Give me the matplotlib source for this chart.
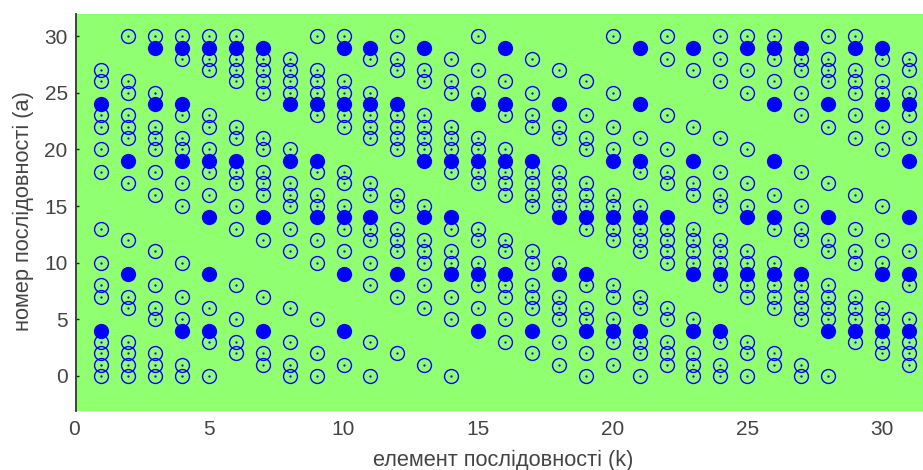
import matplotlib

matplotlib.use("Agg")
import matplotlib.pyplot as plt

# one entry per sequence element k = 1..31
k_values = list(range(1, 32))

open_rows = [
    [27, 26, 23, 22, 20, 18, 13, 10, 8, 7, 3, 2, 1, 0],
    [30, 26, 25, 23, 22, 21, 17, 12, 7, 6, 3, 2, 1, 0],
    [30, 25, 22, 21, 20, 18, 16, 11, 8, 6, 5, 2, 1, 0],
    [30, 28, 23, 21, 20, 17, 15, 10, 7, 5, 1, 0],
    [30, 28, 27, 23, 22, 20, 18, 16, 6, 3, 0],
    [30, 28, 27, 26, 22, 21, 18, 17, 15, 13, 8, 5, 3, 2],
    [28, 27, 26, 25, 21, 20, 18, 17, 16, 12, 7, 2, 1],
    [28, 27, 26, 25, 20, 17, 16, 15, 13, 11, 6, 3, 1, 0],
    [30, 27, 26, 25, 23, 18, 16, 15, 12, 10, 5, 2, 0],
    [30, 26, 25, 23, 22, 18, 17, 15, 13, 11, 1],
    [28, 25, 23, 22, 21, 17, 16, 13, 12, 10, 8, 3, 0],
    [30, 28, 27, 23, 22, 21, 20, 16, 15, 13, 12, 11, 7, 2],
    [27, 26, 23, 22, 21, 20, 15, 12, 11, 10, 8, 6, 1],
    [28, 26, 25, 22, 21, 20, 18, 13, 11, 10, 7, 5, 0],
    [30, 27, 25, 21, 20, 18, 17, 13, 12, 10, 8, 6],
    [26, 23, 20, 18, 17, 16, 12, 11, 8, 7, 5, 3],
    [28, 25, 23, 22, 18, 17, 16, 15, 11, 10, 8, 7, 6, 2],
    [27, 22, 21, 18, 17, 16, 15, 10, 7, 6, 5, 3, 1],
    [26, 23, 21, 20, 17, 16, 15, 13, 8, 6, 5, 2, 0],
    [30, 25, 22, 20, 16, 15, 13, 12, 8, 7, 5, 3, 1],
    [21, 18, 15, 13, 12, 11, 7, 6, 3, 2, 0],
    [30, 28, 23, 20, 18, 17, 13, 12, 11, 10, 6, 5, 3, 2, 1],
    [27, 22, 17, 16, 13, 12, 11, 10, 5, 2, 1, 0],
    [30, 28, 26, 21, 18, 16, 15, 12, 11, 10, 8, 3, 1, 0],
    [30, 27, 25, 20, 17, 15, 11, 10, 8, 7, 3, 2, 0],
    [30, 28, 26, 16, 13, 10, 8, 7, 6, 2, 1],
    [28, 27, 25, 23, 18, 15, 13, 12, 8, 7, 6, 5, 1, 0],
    [30, 28, 27, 26, 22, 17, 12, 11, 8, 7, 6, 5, 0],
    [30, 27, 26, 25, 23, 21, 16, 13, 11, 10, 7, 6, 5, 3],
    [28, 26, 25, 22, 20, 15, 12, 10, 6, 5, 3, 2],
    [28, 27, 25, 23, 21, 11, 8, 5, 3, 2, 1],
]

filled_rows = [
    [24, 4],
    [19, 9],
    [29, 24],
    [29, 24, 19, 4],
    [29, 19, 14, 9, 4],
    [29, 19],
    [29, 14, 4],
    [24, 19],
    [24, 19, 14],
    [29, 24, 14, 9, 4],
    [29, 24, 14],
    [24, 9],
    [29, 19, 14],
    [19, 14, 9],
    [24, 19, 9, 4],
    [29, 24, 19, 9],
    [19, 4],
    [24, 14, 9],
    [14, 9, 4],
    [19, 14, 4],
    [29, 24, 19, 14, 4],
    [14],
    [29, 19, 9, 4],
    [9, 4],
    [29, 14, 9],
    [29, 24, 19, 14, 9],
    [29, 9],
    [24, 14, 4],
    [29, 4],
    [29, 24, 9, 4],
    [24, 19, 14, 9, 4],
]

x_ticks = [0, 5, 10, 15, 20, 25, 30]
y_ticks = [0, 5, 10, 15, 20, 25, 30]
x_label = "елемент послідовності (k)"
y_label = "номер послідовності (a)"

BLUE = "#0000ff"
GREEN = "#90ff70"
TEXT = "#444444"

plt.rcParams["font.family"] = ["Liberation Sans", "DejaVu Sans"]

fig = plt.figure(figsize=(9.23, 4.70), dpi=100)
# x = 0 sits a little left of the drawn axis line, so the axes starts there
ax = fig.add_axes([74.4 / 923, 1 - 410.7 / 470, (923 - 74.4) / 923, (410.7 - 14) / 470])
ax.patch.set_visible(False)
ax.set_xlim(0, 31.53)
ax.set_ylim(-3.07, 31.96)
ax.axvspan(0.09, 31.53, color=GREEN, lw=0, zorder=0)

for k, open_a, filled_a in zip(k_values, open_rows, filled_rows):
    ax.plot([k] * len(open_a), open_a, "o", mfc="none", mec=BLUE, mew=1.0, ms=10)
    ax.plot([k] * len(open_a), open_a, ".", color=BLUE, ms=1.3)
    ax.plot([k] * len(filled_a), filled_a, "o", color=BLUE, ms=11, mew=0)

ax.set_xticks(x_ticks)
ax.set_yticks(y_ticks)
ax.tick_params(axis="x", length=0, labelsize=15, labelcolor=TEXT, pad=7)
ax.tick_params(axis="y", direction="in", length=2, width=1, color="#222222",
               labelsize=15, labelcolor=TEXT, pad=6)
ax.spines["top"].set_visible(False)
ax.spines["right"].set_visible(False)
ax.spines["bottom"].set_visible(False)
ax.spines["left"].set_position(("data", 0.06))
ax.spines["left"].set_linewidth(1.3)
ax.spines["left"].set_color("#333333")

fig.text(503 / 923, 1 - 460 / 470, x_label, fontsize=15.7, color=TEXT, ha="center", va="center")
fig.text(23 / 923, 1 - 211 / 470, y_label, fontsize=15.7, color=TEXT, rotation=90, ha="center", va="center")

fig.savefig("out.png", dpi=100, facecolor="white")
plt.close(fig)
